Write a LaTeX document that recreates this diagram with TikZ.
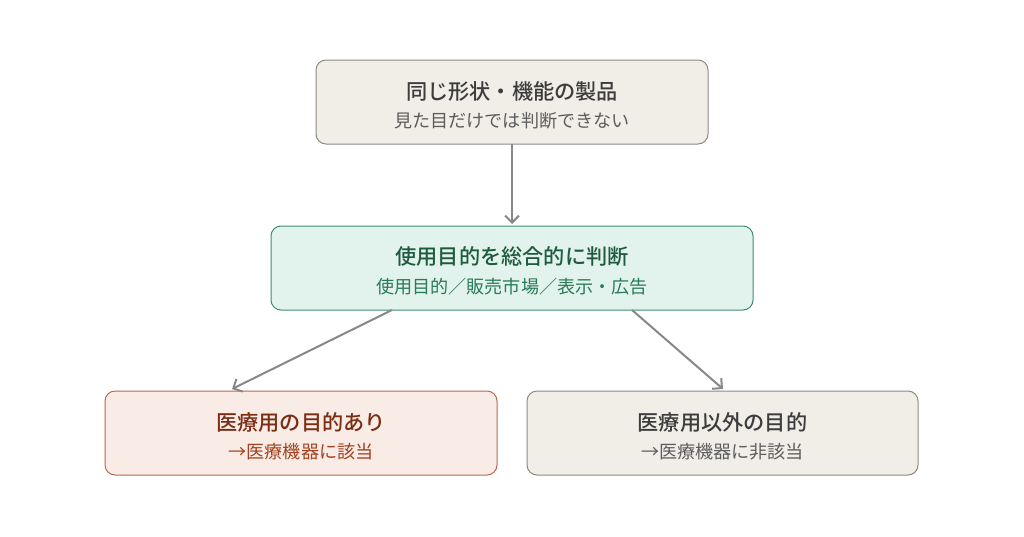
\documentclass[tikz,border=0pt]{standalone}
\usepackage{fontspec}
\setmainfont{Noto Sans CJK JP}
\newfontfamily\titlefont{Noto Sans CJK JP Medium}
\usetikzlibrary{arrows.meta}
\definecolor{neutralfill}{HTML}{F1EEE8}
\definecolor{neutraldraw}{HTML}{8C8A84}
\definecolor{neutraltitle}{HTML}{3C3C3C}
\definecolor{neutralsub}{HTML}{5C5C5C}
\definecolor{greenfill}{HTML}{E1F3EC}
\definecolor{greendraw}{HTML}{3F8E6E}
\definecolor{greentitle}{HTML}{1D5A40}
\definecolor{greensub}{HTML}{287A58}
\definecolor{redfill}{HTML}{F9EBE6}
\definecolor{reddraw}{HTML}{B86A4E}
\definecolor{redtitle}{HTML}{7A2E14}
\definecolor{redsub}{HTML}{A3421E}
\definecolor{arrowgray}{HTML}{888888}
\tikzset{
  boxbase/.style={rounded corners=10pt, line width=1pt},
  neutralbox/.style={boxbase, fill=neutralfill, draw=neutraldraw},
  greenbox/.style={boxbase, fill=greenfill, draw=greendraw},
  redbox/.style={boxbase, fill=redfill, draw=reddraw},
  titletext/.style={font=\fontsize{21.2pt}{24pt}\titlefont, inner sep=0pt, anchor=center},
  subtext/.style={font=\fontsize{18.1pt}{21pt}\selectfont, inner sep=0pt, anchor=center},
  conn/.style={draw=arrowgray, line width=2pt, -{Straight Barb[length=7pt,width=14pt,line width=2pt]}},
}
\begin{document}
\begin{tikzpicture}[x=1pt,y=-1pt]
\useasboundingbox (0,0) rectangle (1024,536);
% boxes
\draw[neutralbox] (316,60) rectangle (708,144);
\coordinate (topS) at (512,144);
\draw[greenbox] (271,226) rectangle (753,310);
\coordinate (midN) at (512,224);
\coordinate (midL) at (392,310);
\coordinate (midR) at (632,310);
\draw[redbox] (105,391) rectangle (497,475);
\coordinate (leftN) at (232,389);
\draw[neutralbox] (527,391) rectangle (918,475);
\coordinate (rightN) at (723,389);
% texts
\node[titletext, text=neutraltitle] (t1) at (512,91) {同じ形状・機能の製品};
\node[subtext, text=neutralsub] (s1) at (512,121) {見た目だけでは判断できない};
\node[titletext, text=greentitle] (t2) at (512,256) {使用目的を総合的に判断};
\node[subtext, text=greensub] (s2) at (512,287) {使用目的／販売市場／表示・広告};
\node[titletext, text=redtitle] (t3) at (301,422) {医療用の目的あり};
\node[subtext, text=redsub] (s3) at (301,452) {→医療機器に該当};
\node[titletext, text=neutraltitle] (t4) at (722.5,422) {医療用以外の目的};
\node[subtext, text=neutralsub] (s4) at (722.5,452) {→医療機器に非該当};
% connectors
\draw[conn] (topS) -- (midN);
\draw[conn] (midL) -- (leftN);
\draw[conn] (midR) -- (rightN);
\end{tikzpicture}
\end{document}
